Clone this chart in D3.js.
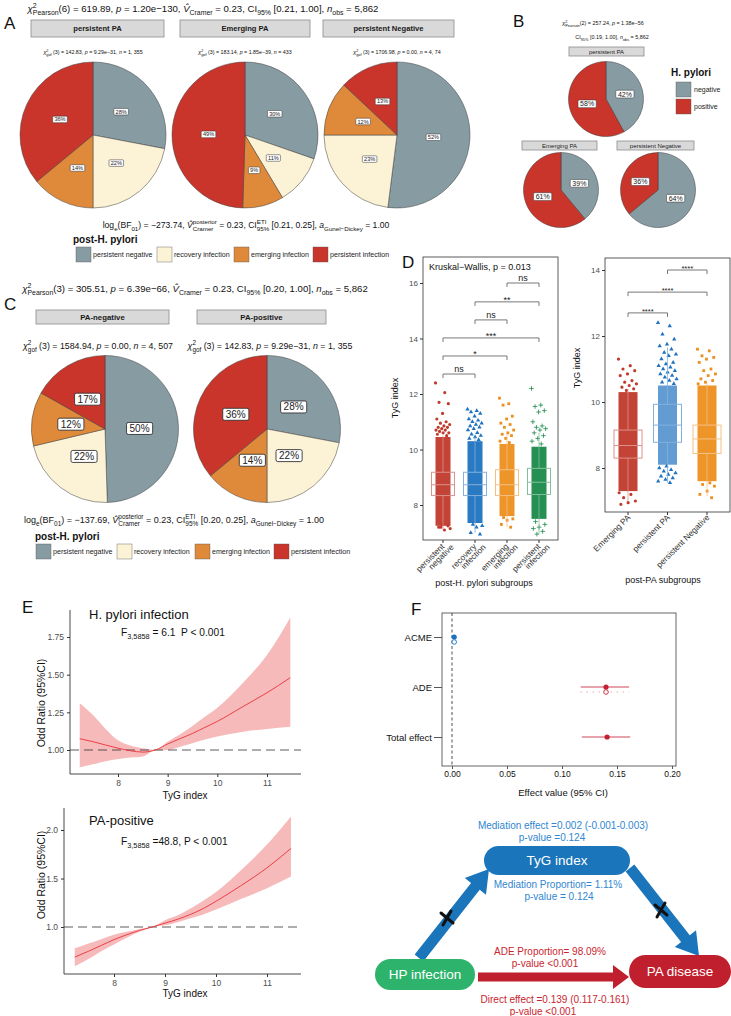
<!DOCTYPE html>
<html>
<head>
<meta charset="utf-8">
<script src="https://cdn.jsdelivr.net/npm/d3@7"></script>
<style>
  body { margin: 0; background: #fff; }
  svg { font-family: "Liberation Sans", Arial, sans-serif; }
  text { white-space: pre; }
</style>
</head>
<body>
<div id="chart"></div>
<script>
const W = 731, H = 1016;

// A / C : post-H. pylori status shares (%)
const hpStatus = ["persistent negative", "recovery infection", "emerging infection", "persistent infection"];
const hpColors = ["#879ba3", "#fcf2d6", "#df8a3b", "#c9352b"];
const paGroups = ["persistent PA", "Emerging PA", "persistent Negative"];
const sharePersistentPA = [28, 22, 14, 36];
const shareEmergingPA = [30, 11, 9, 49];
const sharePersistentNeg = [52, 23, 12, 13];
const gofA = [["142.83", "9.29e−31", "1, 355"], ["183.14", "1.85e−39", "433"], ["1706.98", "0.00", "4, 74"]];

// B : H. pylori negative / positive (%)
const hpLevels = ["negative", "positive"];
const hpLevelColors = ["#879ba3", "#c9352b"];
const posPersistentPA = [42, 58];
const posEmergingPA = [39, 61];
const posPersistentNeg = [64, 36];

// C
const paStatus = ["PA-negative", "PA-positive"];
const sharePANeg = [50, 22, 12, 17];
const sharePAPos = [28, 22, 14, 36];
const gofC = [["1584.94", "0.00", "4, 507"], ["142.83", "9.29e−31", "1, 355"]];

// D left : TyG by post-H. pylori subgroup
const hpSubgroups = [["persistent", "negative"], ["recovery", "infection"], ["emerging", "infection"], ["persistent", "infection"]];
const hpBox = [[8.34, 8.73, 9.18], [8.34, 8.73, 9.18], [8.34, 8.73, 9.27], [8.38, 8.82, 9.32]];
const hpWhisker = [[7.1, 10.5], [7.0, 10.45], [7.2, 10.55], [6.95, 10.6]];
const hpCore = [[7.25, 10.45], [7.35, 10.3], [7.6, 10.2], [7.5, 10.1]];
const hpTails = [
  [12.4, 12.05, 11.7, 11.65, 11.3, 11.1, 11.0, 10.95, 10.9, 10.85, 10.8, 10.8, 10.75, 10.7, 10.7, 10.65, 10.6, 10.6, 10.55, 10.5, 7.2, 7.15, 7.1, 7.2, 7.25, 7.3],
  [11.45, 11.4, 11.35, 11.3, 11.2, 11.1, 11.05, 11.0, 10.95, 10.9, 10.85, 10.8, 10.75, 10.7, 10.6, 10.55, 10.5, 10.45, 10.4, 10.35, 7.3, 7.25, 7.2, 7.0, 6.95],
  [11.85, 11.65, 11.6, 11.2, 11.1, 10.95, 10.9, 10.8, 10.7, 10.6, 10.55, 10.5, 10.4, 10.3, 10.25, 7.55, 7.5, 7.45, 7.3, 7.2],
  [12.2, 11.6, 11.55, 11.4, 11.35, 11.0, 10.85, 10.8, 10.75, 10.7, 10.6, 10.5, 10.4, 10.3, 10.2, 7.4, 7.3, 7.2, 7.15, 7.05, 6.95]
];
const hpComparisons = [[0, 1, 12.72, "ns"], [0, 2, 13.37, "*"], [0, 3, 14.02, "***"], [1, 2, 14.67, "ns"], [1, 3, 15.32, "**"], [2, 3, 16.0, "ns"]];

// D right : TyG by post-PA subgroup
const paSubgroups = ["Emerging PA", "persistent PA", "persistent Negative"];
const paBox = [[8.3, 8.68, 9.15], [8.78, 9.3, 9.93], [8.44, 8.88, 9.3]];
const paWhisker = [[7.0, 10.4], [7.55, 11.65], [7.15, 10.58]];
const paCore = [[7.3, 10.3], [8.1, 10.5], [7.6, 10.5]];
const paTails = [
  [11.3, 11.1, 11.0, 10.95, 10.85, 10.8, 10.65, 10.6, 10.55, 10.5, 10.45, 10.4, 10.35, 7.25, 7.2, 7.1, 7.0, 6.95, 6.9],
  [12.4, 12.3, 12.05, 11.9, 11.75, 11.7, 11.6, 11.5, 11.45, 11.4, 11.3, 11.2, 11.15, 11.1, 11.05, 11.0, 10.95, 10.9, 10.85, 10.8, 10.75, 10.7, 10.65, 10.6, 10.55, 8.05, 8.0, 7.95, 7.9, 7.85, 7.8, 7.75, 7.7, 7.65, 7.6, 7.55],
  [11.6, 11.55, 11.4, 11.35, 11.3, 11.2, 11.0, 10.95, 10.85, 10.8, 10.7, 10.65, 10.6, 10.55, 7.55, 7.5, 7.45, 7.3, 7.2, 7.1]
];
const paComparisons = [[0, 1, 12.7, "****"], [0, 2, 13.33, "****"], [1, 2, 14.0, "****"]];

// E : restricted cubic spline odds ratios
const tygX = [7.23, 7.5, 7.75, 8.0, 8.25, 8.5, 8.75, 9.0, 9.25, 9.5, 9.75, 10.0, 10.5, 11.0, 11.47];
const hpOR = [1.075, 1.055, 1.033, 1.012, 0.995, 0.986, 1.0, 1.04, 1.075, 1.11, 1.15, 1.19, 1.285, 1.38, 1.48];
const hpLow = [0.885, 0.905, 0.925, 0.94, 0.95, 0.957, 0.998, 1.0, 1.022, 1.045, 1.07, 1.09, 1.12, 1.14, 1.155];
const hpHigh = [1.31, 1.23, 1.14, 1.065, 1.03, 1.012, 1.002, 1.055, 1.105, 1.16, 1.22, 1.28, 1.44, 1.63, 1.88];
const paOR = [0.69, 0.75, 0.81, 0.87, 0.92, 0.965, 1.0, 1.04, 1.08, 1.13, 1.19, 1.265, 1.43, 1.61, 1.81];
const paLow = [0.595, 0.67, 0.75, 0.82, 0.89, 0.95, 0.998, 1.017, 1.05, 1.09, 1.13, 1.18, 1.29, 1.40, 1.52];
const paHigh = [0.78, 0.83, 0.875, 0.92, 0.95, 0.98, 1.002, 1.07, 1.12, 1.19, 1.27, 1.36, 1.59, 1.85, 2.14];

// F : mediation effects
const effects = ["ACME", "ADE", "Total effect"];
const effEst = [0.002, 0.14, 0.141];
const effLow = [-0.001, 0.117, 0.118];
const effHigh = [0.003, 0.161, 0.162];
const effAltEst = [0.002, 0.14];
const effColors = ["#1a72c0", "#c41f33", "#c41f33"];

const svg = d3.select("#chart")
  .append("svg")
  .attr("width", W)
  .attr("height", H)
  .style("background", "#fff");

// lays out text runs with sub/superscripts, measuring each run
function rich(parent, x, y, parts, size, anchor = "middle", color = "#111") {
  const g = parent.append("g");
  let cx = 0;
  const small = size * 0.72;
  parts.forEach(p => {
    if (p.stack) {
      const a = g.append("text").attr("x", cx).attr("y", -size * 0.42).style("font-size", small + "px").attr("fill", color).text(p.stack[0]);
      const b = g.append("text").attr("x", cx).attr("y", size * 0.3).style("font-size", small + "px").attr("fill", color).text(p.stack[1]);
      cx += Math.max(a.node().getComputedTextLength(), b.node().getComputedTextLength());
    } else {
      const dy = p.pos === "sub" ? size * 0.3 : p.pos === "sup" ? -size * 0.42 : 0;
      const t = g.append("text")
        .attr("x", cx).attr("y", dy)
        .style("font-size", (p.pos ? small : size) + "px")
        .style("font-style", p.it ? "italic" : null)
        .attr("fill", color)
        .text(p.t);
      cx += t.node().getComputedTextLength();
    }
  });
  const shift = anchor === "middle" ? -cx / 2 : anchor === "end" ? -cx : 0;
  g.attr("transform", `translate(${x + shift},${y})`);
  return g;
}

const pearson = (df, chi, p, v, ci) => [
  { t: "χ", it: 1 }, { stack: ["2", "Pearson"] }, { t: `(${df}) = ${chi}, ` }, { t: "p", it: 1 }, { t: ` = ${p}, ` },
  { t: "V\u0302", it: 1 }, { t: "Cramer", pos: "sub" }, { t: ` = ${v}, CI` }, { t: "95%", pos: "sub" }, { t: ` ${ci}, ` },
  { t: "n", it: 1 }, { t: "obs", pos: "sub" }, { t: " = 5,862" }
];
const bayes = (bf, ci) => [
  { t: "log" }, { t: "e", pos: "sub" }, { t: "(BF" }, { t: "01", pos: "sub" }, { t: `) = ${bf}, ` },
  { t: "V\u0302", it: 1 }, { stack: ["posterior", "Cramer"] }, { t: " = 0.23, CI" }, { stack: ["ETI", "95%"] },
  { t: ` ${ci}, ` }, { t: "a", it: 1 }, { t: "Gunel−Dickey", pos: "sub" }, { t: " = 1.00" }
];
const gof = s => [
  { t: "χ", it: 1 }, { stack: ["2", "gof"] }, { t: ` (3) = ${s[0]}, ` }, { t: "p", it: 1 }, { t: ` = ${s[1]}, ` },
  { t: "n", it: 1 }, { t: ` = ${s[2]}` }
];

function panelLabel(x, y, t) {
  svg.append("text").attr("x", x).attr("y", y).style("font-size", "17px").attr("fill", "#111").text(t);
}

function strip(x0, x1, y0, y1, label, fs, bold) {
  svg.append("rect")
    .attr("x", x0).attr("y", y0)
    .attr("width", x1 - x0).attr("height", y1 - y0)
    .attr("fill", "#d9d9d9").attr("stroke", "#8c8c8c").attr("stroke-width", 0.8);
  svg.append("text")
    .attr("x", (x0 + x1) / 2).attr("y", (y0 + y1) / 2)
    .attr("dy", "0.35em").attr("text-anchor", "middle")
    .style("font-size", fs + "px").style("font-weight", bold ? "bold" : null)
    .attr("fill", "#1a1a1a").text(label);
}

function pie(cx, cy, r, values, colors, fs, lr) {
  const arcs = d3.pie().sort(null).value(d => d)(values);
  const arc = d3.arc().innerRadius(0).outerRadius(r);
  const lab = d3.arc().innerRadius(r * lr).outerRadius(r * lr);
  const g = svg.append("g").attr("transform", `translate(${cx},${cy})`);
  g.selectAll("path").data(arcs).join("path")
    .attr("d", arc)
    .attr("fill", (d, i) => colors[i])
    .attr("stroke", "#3c3c3c").attr("stroke-width", 0.5);
  const l = g.selectAll("g.lab").data(arcs).join("g")
    .attr("class", "lab")
    .attr("transform", d => `translate(${lab.centroid(d)})`);
  l.append("text")
    .attr("text-anchor", "middle").attr("dy", "0.35em")
    .style("font-size", fs + "px").attr("fill", "#222")
    .text(d => d.data + "%");
  l.each(function () {
    const b = d3.select(this).select("text").node().getBBox();
    d3.select(this).insert("rect", "text")
      .attr("x", b.x - fs * 0.3).attr("y", b.y - fs * 0.05)
      .attr("width", b.width + fs * 0.6).attr("height", b.height + fs * 0.1)
      .attr("rx", fs * 0.18)
      .attr("fill", "#fff").attr("stroke", "#333").attr("stroke-width", fs > 8 ? 0.9 : 0.5);
  });
}

function hpLegend(x, y, keyY, keyX, size) {
  svg.append("text").attr("x", x).attr("y", y)
    .style("font-size", "10px").style("font-weight", "bold").attr("fill", "#111").text("post-H. pylori");
  hpStatus.forEach((s, i) => {
    svg.append("rect").attr("x", keyX[i]).attr("y", keyY).attr("width", size).attr("height", size)
      .attr("fill", hpColors[i]).attr("stroke", "#555").attr("stroke-width", 0.4);
    svg.append("text").attr("x", keyX[i] + size + 2).attr("y", keyY + size / 2).attr("dy", "0.35em")
      .style("font-size", "7.1px").attr("fill", "#222").text(s);
  });
}

// ---------- A ----------
panelLabel(4, 29, "A");
rich(svg, 203, 12, pearson(6, "619.89", "1.20e−130", "0.23", "[0.21, 1.00]"), 9.6);
const aPies = [[93, sharePersistentPA, 31, 164], [245, shareEmergingPA, 180, 310], [397, sharePersistentNeg, 323, 454]];
aPies.forEach(([cx, vals, s0, s1], i) => {
  strip(s0, s1, 20, 37, paGroups[i], 7.6, true);
  rich(svg, cx, 54, gof(gofA[i]), 5.3);
  pie(cx, 135, 73, vals, hpColors, 5.6, 0.5);
});
rich(svg, 246, 228, bayes("−273.74", "[0.21, 0.25]"), 8.6);
hpLegend(73, 243, 247, [76, 157, 234, 313], 15);

// ---------- B ----------
panelLabel(513, 27, "B");
rich(svg, 603, 25, [{ t: "χ", it: 1 }, { stack: ["2", "Pearson"] }, { t: "(2) = 257.24, " }, { t: "p", it: 1 }, { t: " = 1.38e−56" }], 5.4);
rich(svg, 612, 39, [{ t: "CI" }, { t: "95%", pos: "sub" }, { t: " [0.19, 1.00], " }, { t: "n", it: 1 }, { t: "obs", pos: "sub" }, { t: " = 5,862" }], 5.4);
strip(569, 644, 47, 56, paGroups[0], 6, false);
pie(606, 99, 37.5, posPersistentPA, hpLevelColors, 7, 0.52);
strip(522, 597, 141, 150, paGroups[1], 6, false);
pie(561, 190, 37.5, posEmergingPA, hpLevelColors, 7, 0.52);
strip(617, 694, 141, 150, paGroups[2], 6, false);
pie(658, 190, 37.5, posPersistentNeg, hpLevelColors, 7, 0.52);
svg.append("text").attr("x", 671).attr("y", 76).style("font-size", "10px").style("font-weight", "bold").attr("fill", "#111").text("H. pylori");
hpLevels.forEach((s, i) => {
  svg.append("rect").attr("x", 676).attr("y", 82 + i * 17).attr("width", 15).attr("height", 15)
    .attr("fill", hpLevelColors[i]).attr("stroke", "#555").attr("stroke-width", 0.4);
  svg.append("text").attr("x", 694).attr("y", 90 + i * 17).attr("dy", "0.35em")
    .style("font-size", "7px").attr("fill", "#222").text(s);
});

// ---------- C ----------
panelLabel(4, 310, "C");
rich(svg, 195, 292, pearson(3, "305.51", "6.39e−66", "0.23", "[0.20, 1.00]"), 9.6);
const cPies = [[105, sharePANeg, 36, 169, 98], [267, sharePAPos, 197, 326, 270]];
cPies.forEach(([cx, vals, s0, s1, tx], i) => {
  strip(s0, s1, 310, 324, paStatus[i], 7.8, true);
  rich(svg, tx, 349, gof(gofC[i]), 8.8);
  pie(cx, 429, 73.5, vals, hpColors, 10, 0.47);
});
rich(svg, 174, 523, bayes("−137.69", "[0.20, 0.25]"), 9);
hpLegend(35, 540, 544, [36, 117, 195, 274], 15);

// ---------- D left ----------
panelLabel(402, 268, "D");
const dPointColors = ["#c0392b", "#1f72c0", "#ec8f1e", "#1a8a4a"];
const lightColor = c => d3.interpolateRgb(c, "#ffffff")(0.45);

const xDL = d3.scalePoint().domain(d3.range(4)).range([443, 539]);
const yDL = d3.scaleLinear().domain([8, 16]).range([505, 283]);
const dl = svg.append("g");

function boxGroup(g, xs, ys, i, core, tails, box, whisk, color, shape, jit, bw, coreOpacity) {
  const cx = xs(i);
  g.append("rect")
    .attr("x", cx - jit).attr("y", ys(core[1]))
    .attr("width", jit * 2).attr("height", ys(core[0]) - ys(core[1]))
    .attr("fill", color).attr("opacity", coreOpacity);
  const sym = d3.symbol().type(shape).size(8);
  tails.forEach((v, k) => {
    const off = (((k * 0.618034) % 1) - 0.5) * 2 * jit;
    if (shape === "plus") {
      g.append("path")
        .attr("d", `M${cx + off - 2.3},${ys(v)}h4.6M${cx + off},${ys(v) - 2.3}v4.6`)
        .attr("stroke", color).attr("stroke-width", 0.8);
    } else {
      g.append("path").attr("d", sym()).attr("transform", `translate(${cx + off},${ys(v)})`).attr("fill", color);
    }
  });
  const lc = lightColor(color);
  g.append("line").attr("x1", cx).attr("x2", cx).attr("y1", ys(whisk[0])).attr("y2", ys(box[0])).attr("stroke", lc).attr("stroke-width", 0.8);
  g.append("line").attr("x1", cx).attr("x2", cx).attr("y1", ys(box[2])).attr("y2", ys(whisk[1])).attr("stroke", lc).attr("stroke-width", 0.8);
  g.append("rect")
    .attr("x", cx - bw).attr("y", ys(box[2]))
    .attr("width", bw * 2).attr("height", ys(box[0]) - ys(box[2]))
    .attr("fill", "none").attr("stroke", lc).attr("stroke-width", 1);
  g.append("line").attr("x1", cx - bw).attr("x2", cx + bw).attr("y1", ys(box[1])).attr("y2", ys(box[1])).attr("stroke", lc).attr("stroke-width", 1);
}

function brackets(g, xs, ys, comps, fs) {
  comps.forEach(([a, b, v, lab]) => {
    const y = ys(v);
    g.append("path")
      .attr("d", `M${xs(a)},${y + 4}V${y}H${xs(b)}V${y + 4}`)
      .attr("fill", "none").attr("stroke", "#555").attr("stroke-width", 0.8);
    g.append("text")
      .attr("x", (xs(a) + xs(b)) / 2).attr("y", lab.startsWith("*") ? y + 1 : y - 2)
      .attr("text-anchor", "middle").style("font-size", fs + "px").attr("fill", "#222").text(lab);
  });
}

function dAxis(g, x, ys, ticks) {
  const ax = g.append("g").attr("transform", `translate(${x},0)`)
    .call(d3.axisLeft(ys).tickValues(ticks).tickFormat(d3.format("d")).tickSize(3).tickPadding(2));
  ax.select(".domain").remove();
  ax.selectAll("line").attr("stroke", "#333");
  ax.selectAll("text").attr("fill", "#4d4d4d").style("font-size", "8px").style("font-family", null);
}

const shapesL = [d3.symbolCircle, d3.symbolTriangle, d3.symbolSquare, "plus"];
hpSubgroups.forEach((s, i) => {
  boxGroup(dl, xDL, yDL, i, hpCore[i], hpTails[i], hpBox[i], hpWhisker[i], dPointColors[i], shapesL[i], 7.5, 11.5, 0.95);
});
dl.append("rect").attr("x", 423).attr("y", 257).attr("width", 135).attr("height", 283)
  .attr("fill", "none").attr("stroke", "#333").attr("stroke-width", 0.8);
dAxis(dl, 423, yDL, [8, 10, 12, 14, 16]);
brackets(dl, xDL, yDL, hpComparisons, 9);
dl.append("text").attr("x", 429).attr("y", 270).style("font-size", "9px").attr("fill", "#111").text("Kruskal−Wallis, p = 0.013");
hpSubgroups.forEach((s, i) => {
  dl.append("line").attr("x1", xDL(i)).attr("x2", xDL(i)).attr("y1", 540).attr("y2", 543).attr("stroke", "#333");
  const t = dl.append("text")
    .attr("transform", `translate(${xDL(i) + 2},${547}) rotate(-45)`)
    .attr("text-anchor", "end").style("font-size", "8.3px").attr("fill", "#333");
  t.append("tspan").attr("x", 0).attr("y", 0).text(s[0]);
  t.append("tspan").attr("x", 6).attr("y", 7).text(s[1]);
});
dl.append("text").attr("transform", "translate(398,398) rotate(-90)").attr("text-anchor", "middle")
  .style("font-size", "9px").attr("fill", "#111").text("TyG index");
dl.append("text").attr("x", 484).attr("y", 586).attr("text-anchor", "middle")
  .style("font-size", "9px").attr("fill", "#111").text("post-H. pylori subgroups");

// ---------- D right ----------
const xDR = d3.scalePoint().domain(d3.range(3)).range([628, 707]);
const yDR = d3.scaleLinear().domain([8, 14]).range([468, 270]);
const dr = svg.append("g");
const shapesR = [d3.symbolCircle, d3.symbolTriangle, d3.symbolSquare];
paSubgroups.forEach((s, i) => {
  boxGroup(dr, xDR, yDR, i, paCore[i], paTails[i], paBox[i], paWhisker[i], dPointColors[i], shapesR[i], 9.5, 14, i === 1 ? 0.7 : 0.95);
});
dr.append("rect").attr("x", 605).attr("y", 258).attr("width", 125).attr("height", 254)
  .attr("fill", "none").attr("stroke", "#333").attr("stroke-width", 0.8);
dAxis(dr, 605, yDR, [8, 10, 12, 14]);
brackets(dr, xDR, yDR, paComparisons, 7.5);
paSubgroups.forEach((s, i) => {
  dr.append("line").attr("x1", xDR(i)).attr("x2", xDR(i)).attr("y1", 512).attr("y2", 515).attr("stroke", "#333");
  dr.append("text")
    .attr("transform", `translate(${xDR(i) + 3},${518}) rotate(-45)`)
    .attr("text-anchor", "end").style("font-size", "8.3px").attr("fill", "#333").text(s);
});
dr.append("text").attr("transform", "translate(580,368) rotate(-90)").attr("text-anchor", "middle")
  .style("font-size", "9px").attr("fill", "#111").text("TyG index");
dr.append("text").attr("x", 663).attr("y", 583).attr("text-anchor", "middle")
  .style("font-size", "9px").attr("fill", "#111").text("post-PA subgroups");

// ---------- E ----------
const fit = (v0, p0, v1, p1, lo, hi) => {
  const s = d3.scaleLinear().domain([v0, v1]).range([p0, p1]);
  return d3.scaleLinear().domain([s.invert(lo), s.invert(hi)]).range([lo, hi]);
};

function splinePanel(xs, ys, or, low, high, yTicks, fmt, title, stat, titleY, statY, yLabY, xLabY) {
  const g = svg.append("g");
  const [x0, x1] = xs.range();
  const [y0, y1] = ys.range();
  g.append("path")
    .datum(tygX.map((x, i) => ({ x, lo: low[i], hi: high[i] })))
    .attr("fill", "#f4a3a3").attr("opacity", 0.75)
    .attr("d", d3.area().curve(d3.curveMonotoneX).x(d => xs(d.x)).y0(d => ys(d.lo)).y1(d => ys(d.hi)));
  g.append("line").attr("x1", x0).attr("x2", x1).attr("y1", ys(1)).attr("y2", ys(1))
    .attr("stroke", "#333").attr("stroke-width", 0.8).attr("stroke-dasharray", "9,5");
  g.append("path")
    .datum(tygX.map((x, i) => ({ x, v: or[i] })))
    .attr("fill", "none").attr("stroke", "#e8323a").attr("stroke-width", 0.9)
    .attr("d", d3.line().curve(d3.curveMonotoneX).x(d => xs(d.x)).y(d => ys(d.v)));
  const ax = g.append("g").attr("transform", `translate(0,${y0})`)
    .call(d3.axisBottom(xs).tickValues([8, 9, 10, 11]).tickFormat(d3.format("d")).tickSize(3).tickPadding(3));
  const ay = g.append("g").attr("transform", `translate(${x0},0)`)
    .call(d3.axisLeft(ys).tickValues(yTicks).tickFormat(d3.format(fmt)).tickSize(3).tickPadding(3));
  [ax, ay].forEach(a => {
    a.select(".domain").remove();
    a.selectAll("line").attr("stroke", "#333");
    a.selectAll("text").attr("fill", "#4d4d4d").style("font-size", "8.5px").style("font-family", null);
  });
  g.append("line").attr("x1", x0).attr("x2", x1).attr("y1", y0).attr("y2", y0).attr("stroke", "#333").attr("stroke-width", 0.9);
  g.append("line").attr("x1", x0).attr("x2", x0).attr("y1", y0).attr("y2", y1).attr("stroke", "#333").attr("stroke-width", 0.9);
  g.append("text").attr("x", 89).attr("y", titleY).style("font-size", "13px").attr("fill", "#111").text(title);
  rich(g, 121, statY, stat, 10.2, "start");
  g.append("text").attr("transform", `translate(45,${yLabY}) rotate(-90)`).attr("text-anchor", "middle")
    .style("font-size", "10.5px").attr("fill", "#111").text("Odd Ratio (95%CI)");
  g.append("text").attr("x", 185).attr("y", xLabY).attr("text-anchor", "middle")
    .style("font-size", "10px").attr("fill", "#111").text("TyG index");
}

panelLabel(22, 613, "E");
const xE1 = fit(8, 118, 11, 267, 70, 301);
const yE1 = fit(1, 750, 1.75, 637, 774, 610);
splinePanel(xE1, yE1, hpOR, hpLow, hpHigh, [1, 1.25, 1.5, 1.75], ".2f", "H. pylori infection",
  [{ t: "F" }, { t: "3,5858", pos: "sub" }, { t: " = 6.1  P < 0.001" }], 619, 636, 703, 799);
const xE2 = fit(8, 114, 11, 267, 64, 301);
const yE2 = fit(1, 927, 2, 830, 974, 808);
splinePanel(xE2, yE2, paOR, paLow, paHigh, [1, 1.5, 2], ".1f", "PA-positive",
  [{ t: "F" }, { t: "3,5858", pos: "sub" }, { t: " =48.8, P < 0.001" }], 825, 845, 875, 997);

// ---------- F forest ----------
panelLabel(411, 615, "F");
const xF = fit(0, 452, 0.2, 672, 442, 676);
const yF = d3.scalePoint().domain(effects).range([637, 737]);
const fg = svg.append("g");
fg.append("rect").attr("x", 442).attr("y", 613).attr("width", 234).attr("height", 153)
  .attr("fill", "none").attr("stroke", "#555").attr("stroke-width", 0.9);
fg.append("line").attr("x1", xF(0)).attr("x2", xF(0)).attr("y1", 613).attr("y2", 766)
  .attr("stroke", "#222").attr("stroke-width", 0.8).attr("stroke-dasharray", "3,2.5");
effects.forEach((e, i) => {
  const y = yF(e);
  fg.append("line").attr("x1", xF(effLow[i])).attr("x2", xF(effHigh[i])).attr("y1", y).attr("y2", y)
    .attr("stroke", lightColor(effColors[i])).attr("stroke-width", 1.4);
  fg.append("circle").attr("cx", xF(effEst[i])).attr("cy", y).attr("r", 2.6).attr("fill", effColors[i]);
  if (i < effAltEst.length) {
    fg.append("line").attr("x1", xF(effLow[i])).attr("x2", xF(effHigh[i])).attr("y1", y + 5).attr("y2", y + 5)
      .attr("stroke", lightColor(effColors[i])).attr("stroke-width", 1).attr("stroke-dasharray", "1,5");
    fg.append("circle").attr("cx", xF(effAltEst[i])).attr("cy", y + 5).attr("r", 2.3)
      .attr("fill", "#fff").attr("stroke", effColors[i]).attr("stroke-width", 0.9);
  }
});
const fy = fg.append("g").attr("transform", "translate(442,0)").call(d3.axisLeft(yF).tickSize(8).tickPadding(2));
fy.select(".domain").remove();
fy.selectAll("line").attr("stroke", "#555");
fy.selectAll("text").attr("fill", "#111").style("font-size", "9.5px").style("font-family", null);
const fx = fg.append("g").attr("transform", "translate(0,766)")
  .call(d3.axisBottom(xF).tickValues([0, 0.05, 0.1, 0.15, 0.2]).tickFormat(d3.format(".2f")).tickSize(3).tickPadding(2));
fx.select(".domain").remove();
fx.selectAll("line").attr("stroke", "#555");
fx.selectAll("text").attr("fill", "#111").style("font-size", "8.5px").style("font-family", null);
fg.append("text").attr("x", 563).attr("y", 796).attr("text-anchor", "middle")
  .style("font-size", "9.5px").attr("fill", "#111").text("Effect value (95% CI)");

// ---------- F diagram ----------
const dg = svg.append("g");
const blue = "#1a75bb", red = "#c0202e", green = "#2db36c";
function arrow(x1, y1, x2, y2, sw, hw, hl, color) {
  const L = Math.hypot(x2 - x1, y2 - y1), ux = (x2 - x1) / L, uy = (y2 - y1) / L, nx = -uy, ny = ux;
  const bx = x2 - ux * hl, by = y2 - uy * hl;
  const pts = [
    [x1 + nx * sw / 2, y1 + ny * sw / 2], [bx + nx * sw / 2, by + ny * sw / 2], [bx + nx * hw / 2, by + ny * hw / 2],
    [x2, y2], [bx - nx * hw / 2, by - ny * hw / 2], [bx - nx * sw / 2, by - ny * sw / 2], [x1 - nx * sw / 2, y1 - ny * sw / 2]
  ];
  dg.append("polygon").attr("points", pts.map(p => p.join(",")).join(" ")).attr("fill", color);
}
function cross(x, y) {
  dg.append("path").attr("d", `M${x - 6},${y - 5}L${x + 6},${y + 5}M${x - 4},${y + 7}L${x + 4},${y - 7}`)
    .attr("stroke", "#111").attr("stroke-width", 3).attr("stroke-linecap", "round");
}
function pill(x0, y0, x1, y1, color, label) {
  dg.append("rect").attr("x", x0).attr("y", y0).attr("width", x1 - x0).attr("height", y1 - y0)
    .attr("rx", (y1 - y0) / 2).attr("fill", color);
  dg.append("text").attr("x", (x0 + x1) / 2).attr("y", (y0 + y1) / 2).attr("dy", "0.36em")
    .attr("text-anchor", "middle").style("font-size", "13.5px").attr("fill", "#fff").text(label);
}
arrow(419, 958, 489, 869, 11, 27, 22, blue);
arrow(630, 868, 699, 956, 11, 27, 22, blue);
arrow(478, 977, 629, 977, 9, 24, 16, red);
cross(447, 918);
cross(661, 910);
pill(484, 846, 630, 875, blue, "TyG index");
pill(375, 959, 475, 990, green, "HP infection");
pill(629, 955, 731, 988, red, "PA disease");
const noteBlue = "#2f86d1", noteRed = "#c9252f";
[["Mediation effect =0.002 (-0.001-0.003)", 563, 829, noteBlue], ["p-value =0.124", 552, 841, noteBlue],
 ["Mediation Proportion= 1.11%", 558, 888, noteBlue], ["p-value = 0.124", 559, 900, noteBlue],
 ["ADE Proportion= 98.09%", 550, 955, noteRed], ["p-value <0.001", 545, 967, noteRed],
 ["Direct effect =0.139 (0.117-0.161)", 555, 1003, noteRed], ["p-value <0.001", 543, 1015, noteRed]]
  .forEach(([t, x, y, c]) => {
    dg.append("text").attr("x", x).attr("y", y).attr("text-anchor", "middle")
      .style("font-size", "10px").attr("fill", c).text(t);
  });
</script>
</body>
</html>
